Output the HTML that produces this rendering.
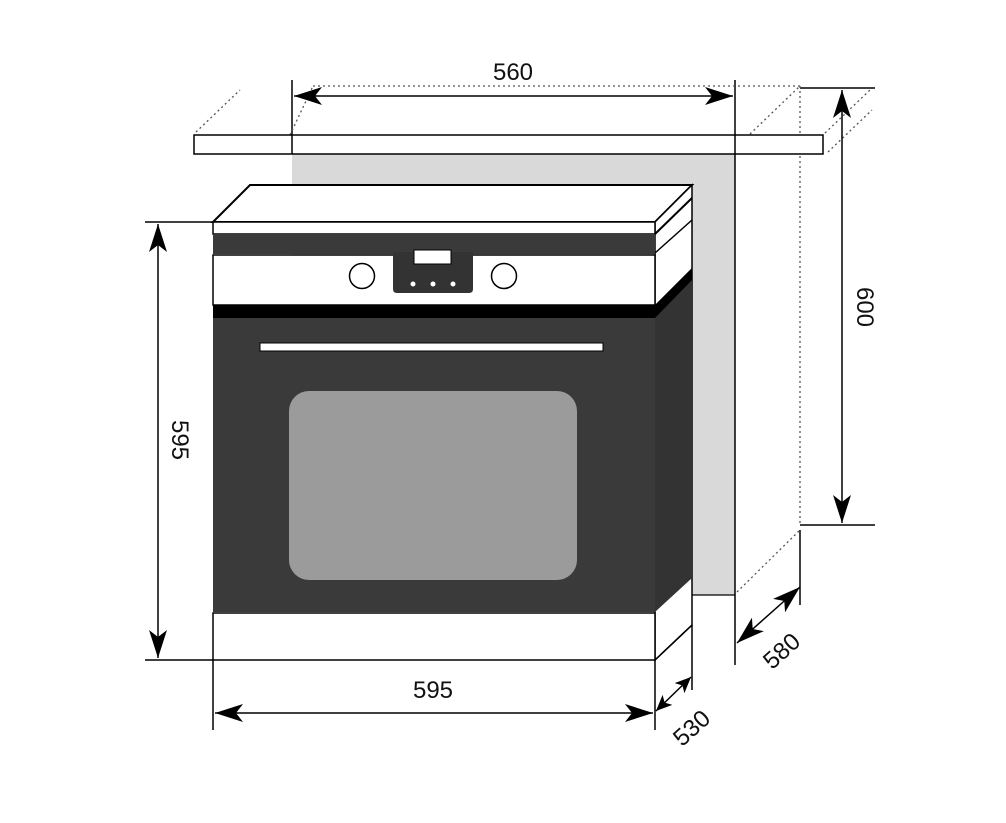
<!DOCTYPE html>
<html><head><meta charset="utf-8"><style>
html,body{margin:0;padding:0;background:#fff}
svg{display:block}
text{font-family:"Liberation Sans","DejaVu Sans",sans-serif;font-size:24px;fill:#111}
</style></head><body>
<svg width="1006" height="823" viewBox="0 0 1006 823" xmlns="http://www.w3.org/2000/svg">
<defs>
<marker id="a" viewBox="0 0 28 18" refX="28" refY="9" markerWidth="28" markerHeight="18" markerUnits="userSpaceOnUse" orient="auto-start-reverse">
<path d="M0,0 L28,9 L0,18 L7,9 Z" fill="#000"/>
</marker>
<marker id="b" viewBox="0 0 16 14" refX="16" refY="7" markerWidth="16" markerHeight="14" markerUnits="userSpaceOnUse" orient="auto-start-reverse">
<path d="M0,0 L16,7 L0,14 L4,7 Z" fill="#000"/>
</marker>
</defs>
<rect x="292" y="154" width="443" height="441" fill="#d9d9d9"/>
<g stroke="#000" stroke-width="1.5" fill="none">
<line x1="292" y1="80" x2="292" y2="154"/>
<line x1="735" y1="80" x2="735" y2="665"/>
<line x1="800" y1="530" x2="800" y2="605"/>
<line x1="800" y1="88" x2="875" y2="88"/>
<line x1="800" y1="525" x2="875" y2="525"/>
</g>
<line x1="292" y1="595" x2="735" y2="595" stroke="#000" stroke-width="1.2"/>
<g stroke="#555" stroke-width="1.3" stroke-dasharray="2,3" fill="none">
<line x1="313" y1="86" x2="800" y2="86"/>
<line x1="196" y1="132" x2="240" y2="90"/>
<line x1="290" y1="135" x2="313" y2="86"/>
<line x1="750" y1="134" x2="800" y2="86"/>
<line x1="800" y1="86" x2="800" y2="525"/>
<line x1="825" y1="133" x2="870" y2="90"/>
<line x1="828" y1="152" x2="872" y2="110"/>
<line x1="737" y1="592" x2="800" y2="530"/>
</g>
<rect x="194" y="135" width="629" height="19" fill="#fff" stroke="#000" stroke-width="1.5"/>
<line x1="292" y1="135" x2="292" y2="154" stroke="#000" stroke-width="1.5"/>
<line x1="735" y1="135" x2="735" y2="154" stroke="#000" stroke-width="1.5"/>
<polygon points="213,222 250,185 692,185 655,222" fill="#fff" stroke="#000" stroke-width="2"/>
<polygon points="655,222 692,185 692,625 655,660" fill="#fff" stroke="#000" stroke-width="1.5"/>
<line x1="655" y1="234" x2="692" y2="198" stroke="#000" stroke-width="2"/>
<line x1="655" y1="253" x2="692" y2="220" stroke="#000" stroke-width="1.5"/>
<polygon points="655,305 692,268 692,578 655,612" fill="#333"/>
<polygon points="655,305 692,268 692,280 655,318" fill="#000"/>
<line x1="655" y1="660" x2="692" y2="625" stroke="#000" stroke-width="1.5"/>
<rect x="213" y="222" width="442" height="12" fill="#fff" stroke="#000" stroke-width="1.5"/>
<rect x="213" y="234" width="442" height="20" fill="#3a3a3a"/>
<rect x="213" y="255" width="442" height="50" fill="#fff" stroke="#000" stroke-width="1.5"/>
<rect x="213" y="305" width="442" height="13" fill="#000"/>
<rect x="213" y="318" width="442" height="294" fill="#3a3a3a"/>
<rect x="213" y="613" width="442" height="47" fill="#fff" stroke="#000" stroke-width="1.5"/>
<path d="M393,252 H473 V289 Q473,293 469,293 H397 Q393,293 393,289 Z" fill="#333"/>
<rect x="414" y="250" width="37" height="14" fill="#fff" stroke="#000" stroke-width="1"/>
<circle cx="413" cy="284" r="2.5" fill="#fff"/><circle cx="433" cy="284" r="2.5" fill="#fff"/><circle cx="453" cy="284" r="2.5" fill="#fff"/>
<circle cx="362" cy="276" r="12.5" fill="#fff" stroke="#000" stroke-width="1.5"/>
<circle cx="504" cy="276" r="12.5" fill="#fff" stroke="#000" stroke-width="1.5"/>
<rect x="260" y="343" width="343" height="8" fill="#fff" stroke="#000" stroke-width="1"/>
<rect x="289" y="391" width="288" height="189" rx="20" fill="#9b9b9b"/>
<g stroke="#000" stroke-width="1.5">
<line x1="145" y1="222" x2="213" y2="222"/>
<line x1="145" y1="660" x2="213" y2="660"/>
<line x1="213" y1="660" x2="213" y2="730"/>
<line x1="655" y1="660" x2="655" y2="730"/>
<line x1="692" y1="625" x2="692" y2="690"/>
<line x1="158" y1="224" x2="158" y2="658" marker-start="url(#a)" marker-end="url(#a)"/>
<line x1="215" y1="713" x2="653" y2="713" marker-start="url(#a)" marker-end="url(#a)"/>
<line x1="294" y1="96" x2="733" y2="96" marker-start="url(#a)" marker-end="url(#a)"/>
<line x1="842" y1="90" x2="842" y2="523" marker-start="url(#a)" marker-end="url(#a)"/>
<line x1="737" y1="643" x2="800" y2="587" marker-start="url(#a)" marker-end="url(#a)"/>
<line x1="656" y1="711" x2="691" y2="677" marker-start="url(#b)" marker-end="url(#b)"/>
</g>
<text x="513" y="80" text-anchor="middle">560</text>
<text x="433" y="698" text-anchor="middle">595</text>
<text transform="translate(172,440) rotate(90)" text-anchor="middle">595</text>
<text transform="translate(857,307) rotate(90)" text-anchor="middle">600</text>
<text transform="translate(787,657) rotate(-42)" text-anchor="middle">580</text>
<text transform="translate(697,734) rotate(-42)" text-anchor="middle">530</text>
</svg>
</body></html>
